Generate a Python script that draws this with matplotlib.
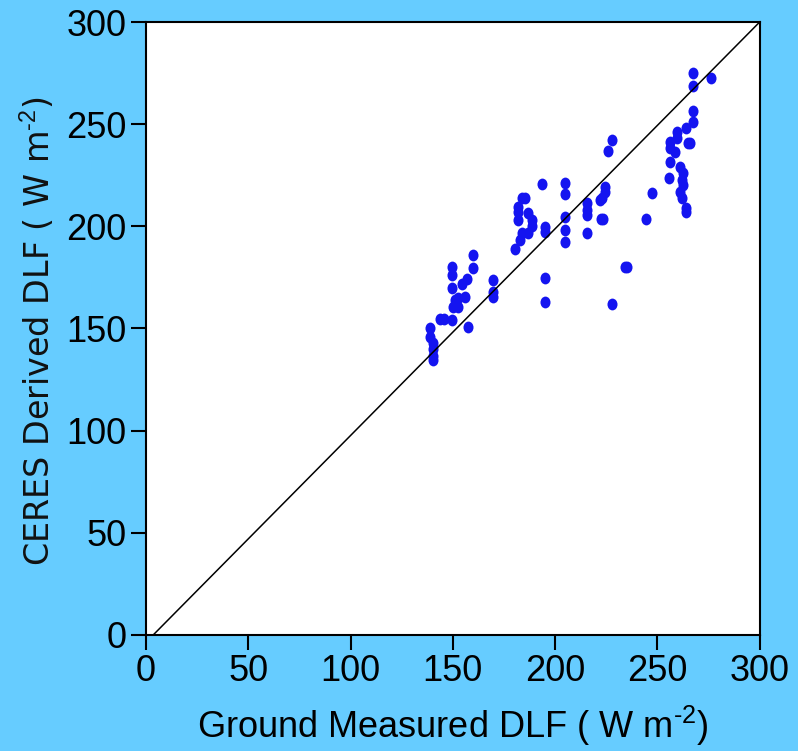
import matplotlib
matplotlib.use('Agg')
import matplotlib.pyplot as plt
import matplotlib.transforms as mt
from matplotlib.path import Path

# ground measured vs CERES derived DLF (W m-2)
ground = [140.2, 140.2, 140.2, 140.2, 138.7, 138.7, 143.6, 145.5,
          149.5, 150.0, 152.5, 151.0, 152.4, 155.8, 149.5, 149.5, 149.5, 154.4, 156.8, 159.7, 159.7, 157.3,
          169.5, 169.5, 169.5,
          180.3, 182.7, 183.7, 186.6, 181.7, 181.7, 181.7, 183.7, 185.5, 186.6, 188.6, 188.6,
          193.5, 194.9, 194.9, 194.9, 194.9,
          204.7, 204.7, 204.7, 204.7, 204.7,
          215.4, 215.4, 215.4, 215.4,
          224.2, 224.2, 221.8, 222.8, 222.3, 223.5, 227.6, 225.7, 227.6, 234.0, 235.0,
          244.3, 247.2,
          267.2, 267.2, 276.0, 267.2, 267.2, 263.8, 259.4, 259.4, 264.8, 266.0, 256.0, 256.0,
          258.4, 256.0, 255.5, 260.9, 262.3, 261.9, 262.3, 260.9, 261.9, 263.8, 263.8]
ceres = [143.0, 140.0, 136.5, 134.5, 150.3, 146.0, 154.7, 154.7,
         154.0, 160.5, 160.5, 164.0, 165.0, 165.4, 170.0, 176.0, 180.0, 172.0, 174.0, 179.6, 186.0, 150.8,
         173.8, 168.0, 165.4,
         189.0, 193.3, 196.8, 196.8, 203.0, 207.0, 209.5, 213.9, 213.9, 206.6, 203.0, 200.0,
         220.8, 199.7, 197.3, 174.7, 163.0,
         221.2, 215.9, 204.6, 198.2, 192.4,
         211.4, 208.0, 205.6, 196.8,
         219.3, 216.8, 212.9, 214.0, 203.6, 203.6, 242.3, 236.9, 162.0, 180.0, 180.0,
         203.6, 216.3,
         275.0, 268.7, 272.6, 256.5, 251.0, 248.2, 246.2, 243.3, 240.8, 240.8, 241.3, 238.4,
         236.4, 231.5, 223.7, 229.0, 226.0, 222.7, 220.3, 216.8, 213.9, 207.0, 209.0]

one_to_one_x = [3.5, 300]
one_to_one_y = [0, 300]
ticks = [0, 50, 100, 150, 200, 250, 300]

bg = '#66CCFF'
plt.rcParams['mathtext.fontset'] = 'custom'
plt.rcParams['mathtext.rm'] = 'Liberation Sans'

fig = plt.figure(figsize=(7.98, 7.51), dpi=100, facecolor=bg)
ax = fig.add_axes([0.183, 0.1545, 0.769, 0.8162])
ax.set_facecolor('white')

ell = Path.unit_circle().transformed(mt.Affine2D().scale(0.85, 1.0))
ax.plot(one_to_one_x, one_to_one_y, color='black', lw=1.1, zorder=3)
ax.plot(ground, ceres, linestyle='none', marker=ell, markersize=8.5,
        color='#1414F0', markeredgewidth=0, zorder=2)

ax.set_xlim(0, 300)
ax.set_ylim(0, 300)
ax.set_xticks(ticks)
ax.set_yticks(ticks)
for s in ax.spines.values():
    s.set_linewidth(1.5)
ax.tick_params(direction='out', length=11, width=1.5, pad=3)
for lab in ax.get_xticklabels() + ax.get_yticklabels():
    lab.set_family('Liberation Sans')
    lab.set_fontsize(26)

ax.set_xlabel(r'Ground Measured DLF ( W m$^{\text{-}2}$)', family='Liberation Sans',
              fontsize=26, labelpad=10)
ax.set_ylabel('CERES Derived DLF ( W m$^{\\text{-}2}$)', family='DejaVu Sans',
              fontsize=24, color='#111111')
ax.yaxis.set_label_coords(-0.145, 0.496)

fig.savefig('out.png', dpi=100, facecolor=bg)
